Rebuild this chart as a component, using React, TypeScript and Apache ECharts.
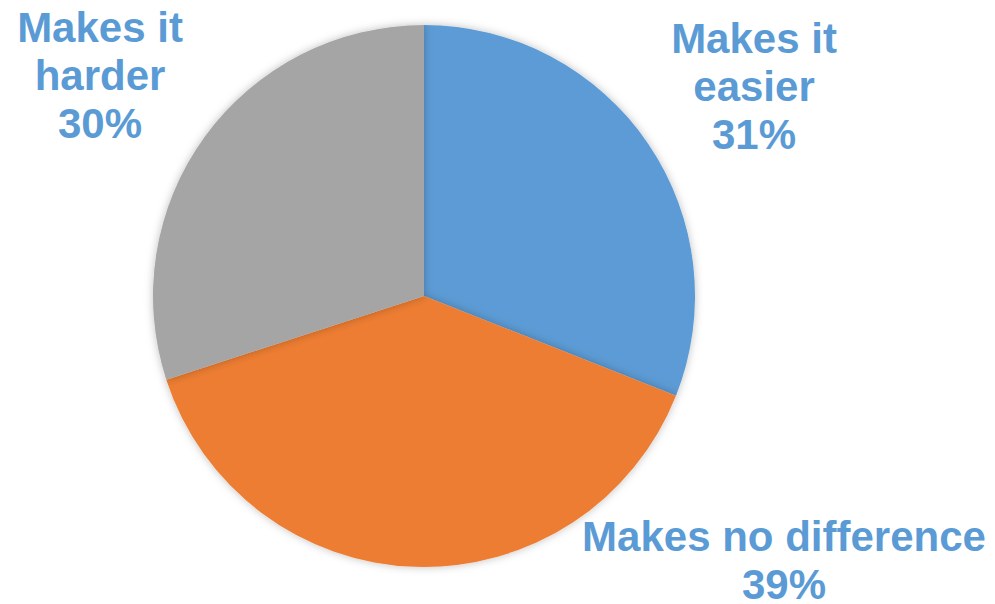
import React, { useEffect, useRef } from "react";
import * as echarts from "echarts";

const categories = ["Makes it easier", "Makes no difference", "Makes it harder"];
const labelLines = ["Makes it\neasier", "Makes no difference", "Makes it\nharder"];
const values = [31, 39, 30];
const colors = ["#5B9BD5", "#ED7D31", "#A5A5A5"];
const labelCenters = [
  [754, 86],
  [784, 556],
  [100, 75],
];

const font = {
  color: "#5B9BD5",
  fontFamily: "Liberation Sans, Arial, sans-serif",
  fontWeight: "bold",
  fontSize: 42,
};

export default function App() {
  const ref = useRef<HTMLDivElement>(null);
  useEffect(() => {
    if (!ref.current) return;
    const chart = echarts.init(ref.current, undefined, { renderer: "svg" });
    chart.setOption({
      animation: false,
      backgroundColor: "#FFFFFF",
      series: [
        {
          type: "pie",
          center: [424, 296],
          radius: 271,
          startAngle: 90,
          clockwise: true,
          data: categories.map((c, i) => ({
            name: c,
            value: values[i],
            itemStyle: { color: colors[i] },
          })),
          itemStyle: {
            borderWidth: 0,
            shadowBlur: 8,
            shadowColor: "rgba(0,0,0,0.25)",
          },
          label: {
            show: true,
            position: "outside",
            formatter: (p: any) => {
              const pct = `${Math.round(p.percent)}%`;
              if (p.dataIndex === 1) {
                return `{n|${labelLines[p.dataIndex]}}\n{p|${pct}}`;
              }
              return `${labelLines[p.dataIndex]}\n${pct}`;
            },
            ...font,
            lineHeight: 48,
            align: "center",
            overflow: "none",
            rich: {
              n: { ...font, lineHeight: 56, align: "center" },
              p: { ...font, lineHeight: 40, align: "center" },
            },
          },
          labelLine: { show: false },
          labelLayout: (p: any) => ({
            x: labelCenters[p.dataIndex][0],
            y: labelCenters[p.dataIndex][1],
            align: "center",
            verticalAlign: "middle",
            width: 500,
          }),
        },
      ],
    });
    return () => chart.dispose();
  }, []);
  return (
    <div
      ref={ref}
      style={{ position: "fixed", left: 0, top: 0, width: 995, height: 604 }}
    />
  );
}
